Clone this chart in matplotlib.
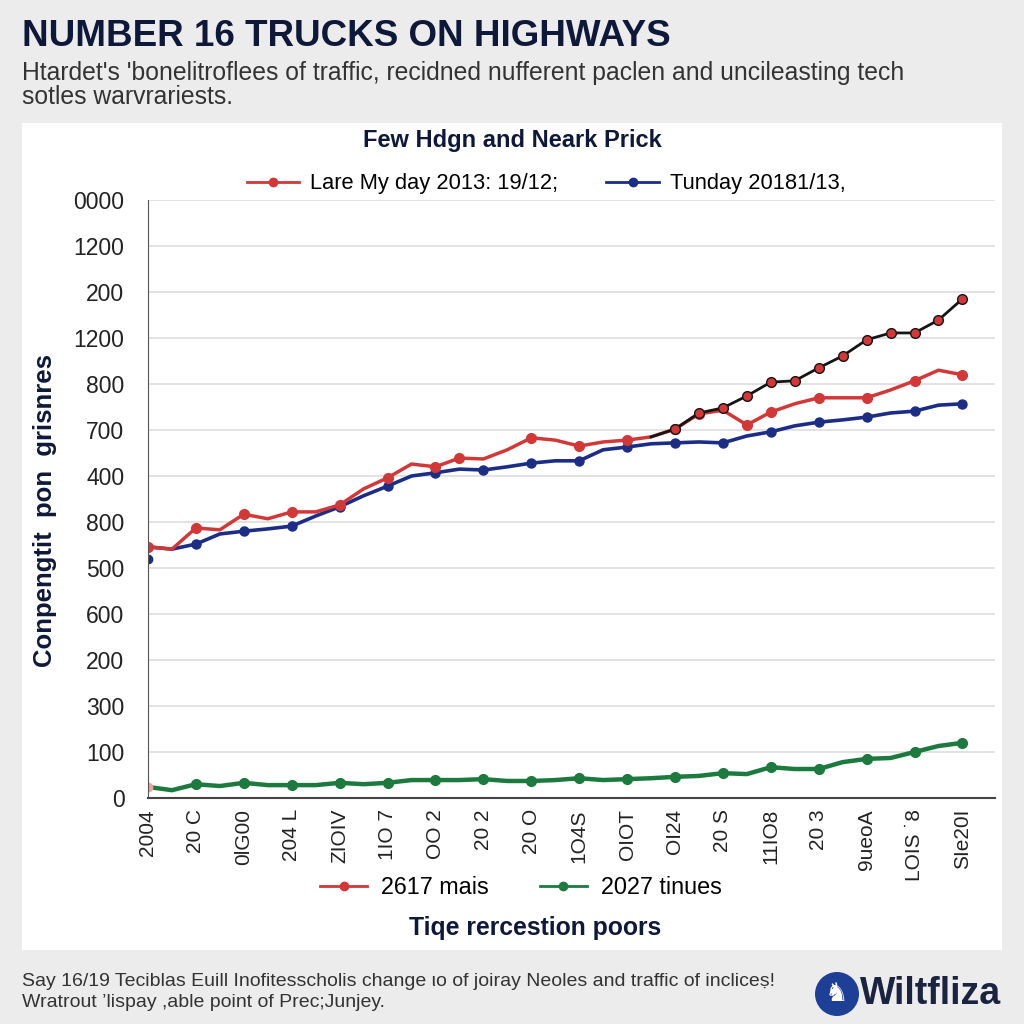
import matplotlib.pyplot as plt
from matplotlib.lines import Line2D
from matplotlib.patches import Circle, Rectangle
import numpy as np

plt.rcParams['font.family'] = ['Liberation Sans', 'DejaVu Sans']

# data (values in y-tick units, x in half-tick steps)
x = np.arange(35) * 0.5

red_main = [5.46, 5.41, 5.87, 5.83, 6.17, 6.07, 6.22, 6.22, 6.37, 6.72, 6.96, 7.26,
            7.20, 7.39, 7.37, 7.57, 7.83, 7.78, 7.65, 7.74, 7.78, 7.85, 8.02, 8.35,
            8.43, 8.11, 8.39, 8.57, 8.70, 8.70, 8.70, 8.87, 9.07, 9.30, 9.20]
red_marks = [0, 2, 4, 6, 8, 10, 12, 13, 16, 18, 20, 22, 23, 25, 26, 28, 30, 32, 34]

black_x = x[21:]
black_vals = [7.85, 8.02, 8.37, 8.48, 8.74, 9.04, 9.07, 9.35, 9.61, 9.96, 10.11,
              10.11, 10.39, 10.85]

blue_vals = [5.46, 5.41, 5.52, 5.74, 5.80, 5.85, 5.91, 6.13, 6.33, 6.57, 6.78, 7.00,
             7.07, 7.15, 7.13, 7.20, 7.28, 7.33, 7.33, 7.57, 7.63, 7.70, 7.72, 7.74,
             7.72, 7.87, 7.96, 8.09, 8.17, 8.22, 8.28, 8.37, 8.41, 8.54, 8.57]
blue_marks = [2, 4, 6, 8, 10, 12, 14, 16, 18, 20, 22, 24, 26, 28, 30, 32, 34]
blue_start = 5.20

green_vals = [0.24, 0.17, 0.30, 0.26, 0.33, 0.28, 0.28, 0.28, 0.33, 0.30, 0.33, 0.39,
              0.39, 0.39, 0.41, 0.37, 0.37, 0.39, 0.43, 0.39, 0.41, 0.43, 0.46, 0.48,
              0.54, 0.52, 0.67, 0.63, 0.63, 0.78, 0.85, 0.87, 1.00, 1.13, 1.20]
green_marks = [2, 4, 6, 8, 10, 12, 14, 16, 18, 20, 22, 24, 26, 28, 30, 32, 34]

y_labels = ["0", "100", "300", "200", "600", "500", "800", "400", "700", "800",
            "1200", "200", "1200", "0000"]
x_labels = ["2004", "20 C", "0lG00", "204 L", "ZIOIV", "1IO 7", "OO 2", "20 2",
            "20 O", "1O4S", "OIOT", "OI24", "20 S", "11IO8", "20 3", "9ueoA",
            "LOIS ˙8", "SIe20I"]

RED = '#d23838'
BLUE = '#1b2d85'
GREEN = '#1c7a3e'
NAVY = '#0e1838'

fig = plt.figure(figsize=(10.24, 10.24), dpi=100)
fig.patch.set_facecolor('#ececec')
fig.patches.append(Rectangle((22 / 1024, 1 - 950 / 1024), 980 / 1024, 827 / 1024,
                             transform=fig.transFigure, facecolor='white',
                             edgecolor='none', zorder=-10))

ax = fig.add_axes([148 / 1024, 1 - 798 / 1024, 847 / 1024, 598 / 1024])
ax.set_facecolor('white')

ax.plot(x, green_vals, color=GREEN, lw=3.2, marker='o', ms=7, markevery=green_marks)
ax.plot([0], [green_vals[0]], 'o', color='#f0a0a0', ms=6)
ax.plot(x, blue_vals, color=BLUE, lw=2.6, marker='o', ms=6.5, markevery=blue_marks)
ax.plot([0], [blue_start], 'o', color=BLUE, ms=6)
ax.plot(x, red_main, color=RED, lw=2.5, marker='o', ms=7, markevery=red_marks)
ax.plot(black_x, black_vals, color='#151515', lw=2, marker='o', ms=7,
        markerfacecolor=RED, markeredgecolor='#151515', markevery=list(range(1, 14)))

ax.set_ylim(0, 13)
ax.set_xlim(0, 17.68)
ax.set_yticks(range(14))
ax.set_yticklabels(y_labels, fontsize=16.5, color='#222222')
ax.set_xticks(range(18))
ax.set_xticklabels(x_labels, rotation=90, fontsize=15, color='#222222')
ax.tick_params(length=0, pad=8)
ax.tick_params(axis='y', pad=17)
ax.grid(axis='y', color='#dddddd', lw=1.2)
ax.set_axisbelow(True)
for s in ['top', 'right']:
    ax.spines[s].set_visible(False)
ax.spines['left'].set_color('#555555')
ax.spines['bottom'].set_color('#444444')
ax.spines['bottom'].set_linewidth(1.5)

ax.set_ylabel("Conpengtit  pon  grisnres", fontsize=18.5, fontweight='bold',
              color=NAVY)
ax.yaxis.set_label_coords(-0.108, 0.48)

# top legend
h1 = [Line2D([], [], color=RED, lw=2, marker='o', ms=6),
      Line2D([], [], color=BLUE, lw=2, marker='o', ms=6)]
fig.legend(h1, ["Lare My day 2013: 19/12;", "Tunday 20181/13,"], ncol=2,
           loc='center', bbox_to_anchor=(546 / 1024, 1 - 184 / 1024), frameon=False,
           fontsize=15.75, handlelength=2.4, handletextpad=0.5, columnspacing=2.2)

# bottom legend
h2 = [Line2D([], [], color=RED, lw=2, marker='o', ms=6),
      Line2D([], [], color=GREEN, lw=2, marker='o', ms=6)]
fig.legend(h2, ["2617 mais", "2027 tinues"], ncol=2, loc='center',
           bbox_to_anchor=(521 / 1024, 1 - 888 / 1024), frameon=False,
           fontsize=16.8, handlelength=2.0, handletextpad=0.6, columnspacing=2.2)

fig.text(535 / 1024, 1 - 928 / 1024, "Tiqe rercestion poors", ha='center', va='center',
         fontsize=17.8, fontweight='bold', color=NAVY)
fig.text(512 / 1024, 1 - 141 / 1024, "Few Hdgn and Neark Prick", ha='center',
         va='center', fontsize=17, fontweight='bold', color=NAVY)

fig.text(22 / 1024, 1 - 37 / 1024, "NUMBER 16 TRUCKS ON HIGHWAYS", ha='left',
         va='center', fontsize=26.5, fontweight='bold', color=NAVY)
fig.text(22 / 1024, 1 - 85 / 1024,
         "Htardet's 'bonelitroflees of traffic, recidned nufferent paclen and uncileasting tech\n"
         "sotles warvrariests.", ha='left', va='center', fontsize=17.8,
         color='#333333', linespacing=1.05)

fig.text(22 / 1024, 1 - 992 / 1024,
         "Say 16/19 Teciblas Euill Inofitesscholis change \u03b9o of joiray Neoles and traffic of incliceṣ!\n"
         "Wratrout \u2019lispay ,able point of Prec;Junjey.", ha='left', va='center',
         fontsize=14, color='#333333', linespacing=1.3)

fig.patches.append(Circle((837 / 1024, 1 - 994 / 1024), 22 / 1024,
                          transform=fig.transFigure, facecolor='#1d3f95',
                          edgecolor='none'))
fig.text(837 / 1024, 1 - 994 / 1024, "\u265e", ha='center', va='center',
         fontsize=19, color='white', family=['DejaVu Sans'])
fig.text(860 / 1024, 1 - 994 / 1024, "Wiltfliza", ha='left', va='center',
         fontsize=27, fontweight='bold', color='#1a2340')

fig.savefig('out.png', dpi=100, facecolor=fig.get_facecolor())
